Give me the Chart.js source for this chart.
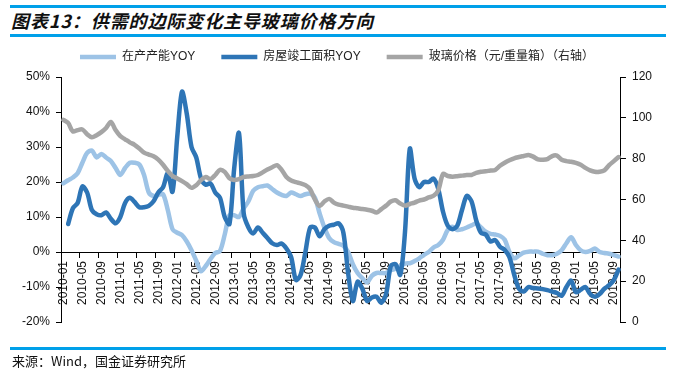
<!DOCTYPE html>
<html>
<head>
<meta charset="utf-8">
<script src="https://cdn.jsdelivr.net/npm/chart.js@4.4.1/dist/chart.umd.min.js"></script>
<style>
html,body{margin:0;padding:0;background:#fff;width:676px;height:373px;overflow:hidden}
.rule{position:absolute;left:10px;width:656px;height:3px;background:#00A0E9}
#title{position:absolute;left:11px;top:8px;font-family:"Noto Sans CJK SC",sans-serif;font-weight:bold;font-style:italic;font-size:18px;letter-spacing:0.9px;line-height:24px;color:#111;white-space:nowrap}
#foot{position:absolute;left:12px;top:352px;font-family:"Noto Sans CJK SC",sans-serif;font-size:13px;line-height:18px;color:#111;white-space:nowrap}
#wrap{position:absolute;left:0;top:0;width:676px;height:373px}
</style>
</head>
<body>
<div class="rule" style="top:5px"></div>
<div id="title">图表13：供需的边际变化主导玻璃价格方向</div>
<div class="rule" style="top:34px"></div>
<div id="wrap"><canvas id="c"></canvas></div>
<div class="rule" style="top:347px"></div>
<div id="foot">来源：Wind，国金证券研究所</div>
<script>
// ---- categories (monthly, 2010-01 .. 2019-10) ----
const months = [
'2010-01','2010-02','2010-03','2010-04','2010-05','2010-06','2010-07','2010-08','2010-09','2010-10','2010-11','2010-12',
'2011-01','2011-02','2011-03','2011-04','2011-05','2011-06','2011-07','2011-08','2011-09','2011-10','2011-11','2011-12',
'2012-01','2012-02','2012-03','2012-04','2012-05','2012-06','2012-07','2012-08','2012-09','2012-10','2012-11','2012-12',
'2013-01','2013-02','2013-03','2013-04','2013-05','2013-06','2013-07','2013-08','2013-09','2013-10','2013-11','2013-12',
'2014-01','2014-02','2014-03','2014-04','2014-05','2014-06','2014-07','2014-08','2014-09','2014-10','2014-11','2014-12',
'2015-01','2015-02','2015-03','2015-04','2015-05','2015-06','2015-07','2015-08','2015-09','2015-10','2015-11','2015-12',
'2016-01','2016-02','2016-03','2016-04','2016-05','2016-06','2016-07','2016-08','2016-09','2016-10','2016-11','2016-12',
'2017-01','2017-02','2017-03','2017-04','2017-05','2017-06','2017-07','2017-08','2017-09','2017-10','2017-11','2017-12',
'2018-01','2018-02','2018-03','2018-04','2018-05','2018-06','2018-07','2018-08','2018-09','2018-10','2018-11','2018-12',
'2019-01','2019-02','2019-03','2019-04','2019-05','2019-06','2019-07','2019-08','2019-09','2019-10'
];
// ---- x tick labels shown ----
const xTickLabels = [
'2010-01','2010-05','2010-09','2011-01','2011-05','2011-09','2012-01','2012-05','2012-09','2013-01',
'2013-05','2013-09','2014-01','2014-05','2014-09','2015-01','2015-05','2015-09','2016-01','2016-05',
'2016-09','2017-01','2017-05','2017-09','2018-01','2018-05','2018-09','2019-01','2019-05','2019-09'
];
// ---- series: 在产产能YOY (%) ----
const capacityYoY = [
19.6,20.5,21.3,22.5,25.5,28.3,29,27,28,27,26,24,
22,24,25.5,25.5,25,22,17,16,16.3,16.5,12,6.5,
5.5,4.8,3,0.5,-2.5,-5.5,-4,-2,-0.3,0.3,5,10.5,
10.5,10,12.5,14.5,17.5,18.5,18.8,19,18,17,16.3,16,
17,16.5,16,16.5,16.7,15.5,11,7,4,2.8,2.3,1.8,
0,-3.5,-6,-7.5,-8.7,-6.8,-6,-6,-6,-5.2,-4.8,-4,
-3.3,-3.2,-2.6,-1.8,-0.8,0,1.3,2,3.5,6.3,7.2,6.3,
6.5,7,7.6,8.2,7,5.8,5.2,5,4.6,3.5,0,-1.8,
-1,-0.2,0.1,0.1,0.1,-0.5,-0.9,-0.9,-0.5,0.5,2.5,4.2,
2,0.5,0,0.3,1,0,-0.3,-0.5,-0.9,-1.3
];
// ---- series: 房屋竣工面积YOY (%) ----
const completionYoY = [
null,8,12.5,14,18.7,17,12,10.8,10.5,11.3,9.5,8.2,
10,14,15.5,14.3,12.8,12.8,13.2,14.5,17,18.5,22.5,17.2,
33,45.8,39.5,30,27,21,19.2,19.6,17,15.5,10,8,
24,34,11,7,5.3,7,5.5,4,2.5,2,2.4,1,
-1.5,-8,-6.5,0,7,7,4.5,6.5,7.5,7.8,8.2,5.5,
-6,-14,-8.5,-10.5,-14,-13,-12.8,-14.5,-12,-4,-3.5,-6.5,
6,29.5,21,18.5,20,20,21,18,11.5,7.5,6.5,7.5,
12,16,14.5,9,5.5,5,3,3.4,1.5,0.6,-1.5,-6.5,
-10.5,-11.3,-10,-10.3,-10.4,-10.6,-10.9,-11.3,-11.7,-12.5,-10,-8.2,
-11.5,-10.8,-10,-12,-12.8,-12,-10.5,-9.5,-8,-5
];
// ---- series: 玻璃价格（元/重量箱）（右轴） ----
const glassPrice = [
99,97.5,93.3,94,94.3,92,90.5,91.5,93,95,98,94,
91,89.5,88,86.8,85,83,82,81.2,79.5,77,74,71.5,
70.3,69,67.5,65.7,67,69.5,71,70,72,74.5,73.5,70.4,
69.6,70,71,71.3,71.5,72,73.3,74.7,75.8,76.8,74.5,71,
69.3,68.5,67.9,67,65,60,56.8,59,60.3,58.5,57.5,57,
56.5,56,55.7,55.3,55,54.5,53.6,55.3,57,59,59.6,58,
57,57.8,58.5,59.5,60,61,61.8,64.5,72.5,71.5,71.2,71.4,
71.7,72,72,73,73.6,73.8,74.2,74.5,76.5,78,79.2,80.2,
80.8,81.3,81.8,81,79.6,79.5,79.8,81.3,81.5,79.5,78.8,78.5,
77.9,77,75.5,74.3,73.6,73.6,74.3,76.8,78.8,80.8
];
const seriesNames = ['在产产能YOY','房屋竣工面积YOY','玻璃价格（元/重量箱）（右轴）'];

const FONT = '"Liberation Sans", "Noto Sans CJK SC", sans-serif';
const tickSet = new Set(xTickLabels);

const legendGap = {
  id: 'legendGap',
  beforeInit(chart) {
    const orig = chart.legend.fit;
    chart.legend.fit = function () { orig.call(this); this.height += 4; };
  }
};

new Chart(document.getElementById('c'), {
  type: 'line',
  data: {
    labels: months,
    datasets: [
      { label: seriesNames[0], data: capacityYoY, yAxisID: 'y', borderColor: '#9DC3E6', backgroundColor: '#9DC3E6',
        borderWidth: 4.5, pointRadius: 0, tension: 0.3, order: 3, borderCapStyle: 'round', borderJoinStyle: 'round' },
      { label: seriesNames[1], data: completionYoY, yAxisID: 'y', borderColor: '#2E75B6', backgroundColor: '#2E75B6',
        borderWidth: 4.5, pointRadius: 0, tension: 0.3, order: 2, borderCapStyle: 'round', borderJoinStyle: 'round' },
      { label: seriesNames[2], data: glassPrice, yAxisID: 'y1', borderColor: '#A5A5A5', backgroundColor: '#A5A5A5',
        borderWidth: 4.5, pointRadius: 0, tension: 0.3, order: 1, borderCapStyle: 'round', borderJoinStyle: 'round' }
    ]
  },
  options: {
    responsive: true,
    maintainAspectRatio: false,
    animation: false,
    layout: { padding: { top: 25, left: 16, right: 18, bottom: 51 } },
    plugins: {
      tooltip: { enabled: false },
      title: { display: false },
      legend: {
        position: 'top',
        labels: {
          usePointStyle: true, pointStyle: 'line', pointStyleWidth: 36,
          padding: 26, color: '#222',
          font: { size: 12, family: FONT },
          sort: (a, b) => a.datasetIndex - b.datasetIndex
        }
      }
    },
    scales: {
      x: {
        type: 'category',
        offset: true,
        position: { y: 0 },
        grid: {
          offset: true, drawOnChartArea: false, drawTicks: true, tickLength: 5,
          color: (c) => (c.index % 4 === 0 ? '#000' : 'rgba(0,0,0,0)'), lineWidth: 1
        },
        border: { display: true, color: '#000', width: 1 },
        ticks: {
          autoSkip: false, maxRotation: 90, minRotation: 90, padding: 4, color: '#111',
          font: { size: 12, family: FONT },
          callback: (v, i) => (tickSet.has(months[i]) ? months[i] : '')
        }
      },
      y: {
        position: 'left', min: -20, max: 50,
        grid: { drawOnChartArea: false, drawTicks: true, tickLength: 5, color: '#000' },
        border: { display: true, color: '#000', width: 1 },
        ticks: { stepSize: 10, padding: 6, color: '#111', font: { size: 12, family: FONT }, callback: (v) => v + '%' }
      },
      y1: {
        position: 'right', min: 0, max: 120,
        grid: { drawOnChartArea: false, drawTicks: true, tickLength: 5, color: '#000' },
        border: { display: true, color: '#000', width: 1 },
        ticks: { stepSize: 20, padding: 6, color: '#111', font: { size: 12, family: FONT } }
      }
    }
  },
  plugins: [legendGap]
});
</script>
</body>
</html>
